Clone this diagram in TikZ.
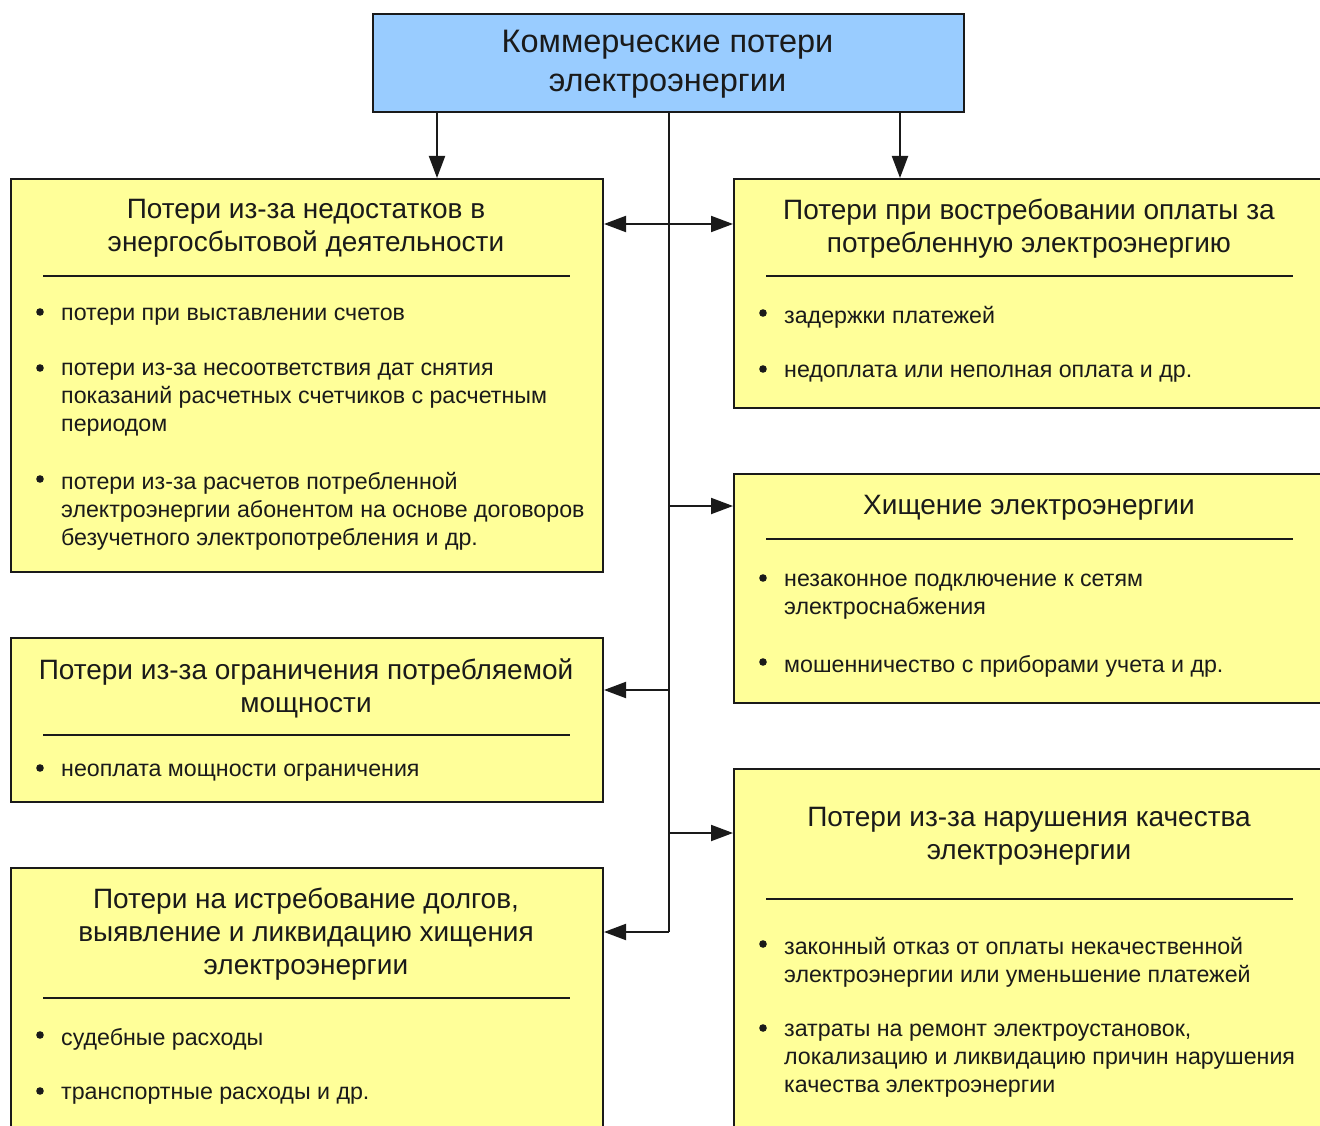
\documentclass[tikz,border=0pt]{standalone}
\usepackage{fontspec}
\setmainfont{Liberation Sans}
\usetikzlibrary{arrows.meta}
\usetikzlibrary{positioning}
\usepackage{xcolor}
\definecolor{boxyellow}{HTML}{FFFF99}
\definecolor{boxblue}{HTML}{99CCFF}
\definecolor{ink}{HTML}{1A1A1A}

\begin{document}
\begin{tikzpicture}[x=1pt,y=-1pt,
  box/.style={draw=ink,line width=2pt,fill=boxyellow,rectangle,anchor=north west,inner sep=0pt},
  head/.style={align=center,font=\fontsize{28}{33}\selectfont,text=ink,inner sep=0pt,yshift=-3pt},
  item/.style={align=left,anchor=west,font=\fontsize{23.2}{28}\selectfont,text=ink,inner sep=0pt,yshift=-4.5pt},
  sepline/.style={line width=2pt,draw=ink},
  link/.style={line width=2pt,draw=ink},
  arr/.style={link,-{Triangle[length=22pt,width=16pt]}},
  arrboth/.style={link,{Triangle[length=22pt,width=16pt]}-{Triangle[length=22pt,width=16pt]}}]
\useasboundingbox (0,0) rectangle (1320,1126);
\clip (0,0) rectangle (1320,1126);

% top box
\node[box,fill=boxblue,minimum width=591pt,minimum height=98pt] (comm) at (372,13) {};
\node[head,font=\fontsize{32.5}{39}\selectfont] (comm-h) at (667.5,61.5) {Коммерческие потери\\электроэнергии};

% left column
\node[box,minimum width=592pt,minimum height=393pt] (billing) at (10,178) {};
\node[head] (billing-h) at (306,225.5) {Потери из-за недостатков в\\энергосбытовой деятельности};
\draw[sepline] (43,276)--(570,276);
\fill[ink] (40,312) circle[radius=3.8pt];
\node[item] (billing-1) at (61,312) {потери при выставлении счетов};
\fill[ink] (40,368) circle[radius=3.8pt];
\node[item] (billing-2) at (61,395.5) {потери из-за несоответствия дат снятия\\показаний расчетных счетчиков с расчетным\\периодом};
\fill[ink] (40,479) circle[radius=3.8pt];
\node[item] (billing-3) at (61,507) {потери из-за расчетов потребленной\\электроэнергии абонентом на основе договоров\\безучетного электропотребления и др.};

\node[box,minimum width=592pt,minimum height=164pt] (limit) at (10,637) {};
\node[head] (limit-h) at (306,685.5) {Потери из-за ограничения потребляемой\\мощности};
\draw[sepline] (43,735)--(570,735);
\fill[ink] (40,768) circle[radius=3.8pt];
\node[item] (limit-1) at (61,768) {неоплата мощности ограничения};

\node[box,minimum width=592pt,minimum height=280pt] (debts) at (10,867) {};
\node[head] (debts-h) at (306,931) {Потери на истребование долгов,\\выявление и ликвидацию хищения\\электроэнергии};
\draw[sepline] (43,998)--(570,998);
\fill[ink] (40,1035) circle[radius=3.8pt];
\node[item] (debts-1) at (61,1035) {судебные расходы};
\fill[ink] (40,1091) circle[radius=3.8pt];
\node[item] (debts-2) at (61,1091) {транспортные расходы и др.};

% right column
\node[box,minimum width=592pt,minimum height=229pt] (payment) at (733,178) {};
\node[head] (payment-h) at (1029,225.5) {Потери при востребовании оплаты за\\потребленную электроэнергию};
\draw[sepline] (766,276)--(1293,276);
\fill[ink] (763,313) circle[radius=3.8pt];
\node[item] (payment-1) at (784,313) {задержки платежей};
\fill[ink] (763,369) circle[radius=3.8pt];
\node[item] (payment-2) at (784,369) {недоплата или неполная оплата и др.};

\node[box,minimum width=592pt,minimum height=229pt] (theft) at (733,473) {};
\node[head] (theft-h) at (1029,505) {Хищение электроэнергии};
\draw[sepline] (766,539)--(1293,539);
\fill[ink] (763,578) circle[radius=3.8pt];
\node[item] (theft-1) at (784,592) {незаконное подключение к сетям\\электроснабжения};
\fill[ink] (763,662) circle[radius=3.8pt];
\node[item] (theft-2) at (784,662) {мошенничество с приборами учета и др.};

\node[box,minimum width=592pt,minimum height=380pt] (quality) at (733,768) {};
\node[head] (quality-h) at (1029,833.5) {Потери из-за нарушения качества\\электроэнергии};
\draw[sepline] (766,899)--(1293,899);
\fill[ink] (763,944) circle[radius=3.8pt];
\node[item] (quality-1) at (784,958) {законный отказ от оплаты некачественной\\электроэнергии или уменьшение платежей};
\fill[ink] (763,1028) circle[radius=3.8pt];
\node[item] (quality-2) at (784,1056) {затраты на ремонт электроустановок,\\локализацию и ликвидацию причин нарушения\\качества электроэнергии};

% connectors
\coordinate (dropL) at ([xshift=65pt]comm.south west);
\coordinate (dropR) at ([xshift=-65pt]comm.south east);
\draw[arr] (dropL) -- (dropL |- billing.north);
\draw[arr] (dropR) -- (dropR |- payment.north);

\coordinate (hook1) at ([yshift=-46pt]billing.north east);
\coordinate (hook2) at ([yshift=-33pt]theft.north west);
\coordinate (hook3) at ([yshift=-53pt]limit.north east);
\coordinate (hook4) at ([yshift=-65pt]quality.north west);
\coordinate (hook5) at ([yshift=-65pt]debts.north east);
\draw[link] (comm.south) -- (comm.south |- hook5);
\draw[arrboth] (hook1) -- (hook1 -| payment.west);
\draw[arr] (comm.south |- hook2) -- (hook2);
\draw[arr] (comm.south |- hook3) -- (hook3);
\draw[arr] (comm.south |- hook4) -- (hook4);
\draw[arr] (comm.south |- hook5) -- (hook5);
\end{tikzpicture}
\end{document}
